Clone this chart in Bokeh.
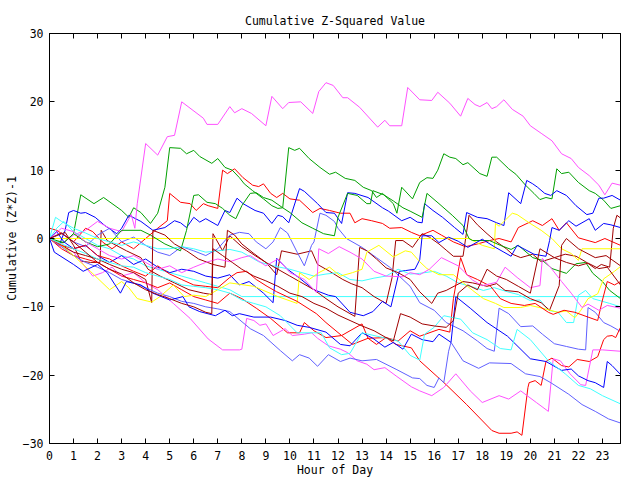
import math
from bokeh.plotting import figure
from bokeh.models import Range1d, FixedTicker, LinearAxis
from bokeh.embed import file_html
from bokeh.resources import INLINE

# ---- data: (hour, cumulative (Z*Z)-1) knots ----
m1 = [(0,0),(0.5,-0.8),(1,0.5),(1.5,1.2),(2,2.5),(2.5,1.5),(3,1.0),(3.4,3.5),(3.55,1.5),(3.65,5.1),(4.0,13.9),(4.5,12.2),(4.9,14.9),(5.2,15.1),(5.5,20.0),(6.4,17.6),(6.55,16.7),(7.0,16.7),(7.5,19.3),(7.7,18.4),(8.0,19.0),(8.4,18.3),(9.0,16.5),(9.25,20.8),(9.7,19.0),(9.95,19.9),(10.45,20.0),(10.95,18.3),(11.2,21.5),(11.5,22.8),(11.8,22.4),(12.2,20.6),(12.4,20.6),(12.9,19.2),(13.65,16.3),(13.95,17.3),(14.15,16.5),(14.65,16.5),(14.9,22.1),(15.4,20.3),(15.9,20.2),(16.15,21.4),(16.65,19.8),(17.1,17.9),(17.4,20.5),(17.7,19.6),(17.9,19.3),(18.2,19.9),(18.4,19.0),(18.6,19.3),(18.9,20.3),(19.25,18.9),(19.7,17.9),(20.0,16.5),(20.45,15.4),(20.9,14.3),(21.3,12.4),(21.7,11.7),(22.0,10.4),(22.45,9.2),(22.85,7.8),(23.1,6.4),(23.4,8.1),(23.75,7.8)]
g1 = [(0,0),(0.3,-0.5),(0.6,-0.6),(1.0,0.7),(1.1,2.6),(1.3,6.4),(1.85,5.1),(2.25,6.0),(3.0,4.1),(3.3,3.1),(3.5,4.5),(3.8,3.8),(4.2,2.2),(4.5,3.7),(4.8,7.5),(5.0,13.3),(5.45,13.2),(5.7,12.4),(6.0,12.9),(6.25,12.0),(6.75,11.0),(7.0,11.7),(7.3,10.4),(7.6,10.0),(7.9,8.9),(8.1,8.0),(8.45,7.0),(8.9,5.8),(9.25,4.8),(9.5,4.4),(9.7,4.5),(9.95,13.3),(10.2,12.9),(10.4,13.2),(10.8,11.7),(11.25,10.4),(11.65,9.4),(11.9,9.7),(12.3,8.8),(12.7,8.5),(13.05,7.5),(13.4,7.0),(13.6,6.0),(13.85,6.6),(14.3,5.1),(14.45,3.7),(14.65,7.5),(15.1,5.8),(15.4,8.2),(15.7,8.9),(15.95,8.8),(16.15,10.0),(16.4,12.4),(16.65,11.9),(16.9,11.7),(17.2,10.8),(17.4,11.1),(17.9,9.5),(18.2,9.1),(18.4,11.9),(18.6,11.9),(19.1,10.2),(19.4,9.4),(19.8,7.8),(20.15,6.6),(20.4,5.7),(20.65,6.0),(20.9,5.8),(21.1,10.2),(21.3,9.5),(21.6,9.7),(22.0,8.2),(22.45,7.0),(22.7,6.6),(23.05,5.6),(23.35,4.4),(23.75,4.8)]
b1 = [(0,0),(0.4,-1),(0.65,1.2),(0.8,3.8),(1.0,4.1),(1.3,3.7),(1.5,3.8),(1.9,3.1),(2.3,1.9),(2.8,0.7),(3.0,1.5),(3.3,3.4),(3.8,2.5),(4.3,1.2),(4.8,1.6),(5.2,2.6),(5.45,2.3),(5.7,1.6),(6.0,3.1),(6.25,2.4),(6.5,2.9),(7.0,1.9),(7.3,4.1),(7.5,3.8),(7.8,5.9),(8.05,5.1),(8.55,4.1),(8.9,3.7),(9.25,2.2),(9.5,3.4),(9.7,3.2),(9.95,2.3),(10.4,7.3),(10.6,6.9),(11.15,5.1),(11.5,3.8),(11.85,3.7),(12.15,2.2),(12.4,6.7),(12.7,6.6),(13.25,6.0),(13.85,4.5),(14.1,4.0),(14.65,2.6),(15.0,3.1),(15.3,2.4),(15.5,2.3),(15.6,5.1),(15.95,4.1),(16.35,3.1),(16.85,1.6),(17.2,0.6),(17.35,3.8),(17.8,3.1),(18.2,2.9),(18.6,2.3),(18.9,1.9),(19.1,6.7),(19.6,5.1),(19.85,8.5),(20.1,8.0),(20.3,7.5),(20.6,6.6),(20.85,6.3),(21.1,7.0),(21.5,6.3),(21.9,4.8),(22.35,3.5),(22.6,3.7),(22.85,5.9),(23.05,5.9),(23.4,6.3),(23.75,5.6)]
b2 = [(0,0),(0.3,1),(0.6,-0.5),(1.0,-1.5),(1.5,-1),(2.0,-2.5),(2.5,-3.5),(3.0,-2.5),(3.5,-3.8),(4.0,-3.0),(4.5,-4.2),(5.0,-5),(5.5,-4.5),(6,-4.8),(6.5,-5.5),(7.0,-5.8),(7.5,-5.3),(7.9,-6.8),(8.3,-6.3),(8.9,-8.0),(9.3,-9.4),(9.45,-2.9),(9.9,-4.5),(10.4,-5.8),(11.0,-7.5),(11.6,-8.3),(11.9,-8.5),(12.5,-10.8),(13.05,-11.3),(13.45,-10.7),(13.85,-9.2),(14.2,-10),(14.55,-4.8),(14.8,-4.7),(15.2,-4.5),(15.4,-3.1),(15.5,0.4),(15.9,0.4),(16.2,-0.6),(16.6,0.2),(17.0,-0.4),(17.4,-1.3),(18.0,-0.1),(18.5,-1.2),(18.9,-2.0),(19.2,-2.6),(19.45,-1.0),(20.15,-2.3),(20.65,-2.6),(20.8,-0.3),(20.9,1.6),(21.2,1.2),(21.6,2.6),(21.9,1.8),(22.45,2.9),(22.7,1.2),(23.05,2.2),(23.35,2.0),(23.75,1.6)]
b3 = [(0,0),(0.2,-2),(1.0,-3.8),(1.4,-4.8),(2.0,-3.8),(2.4,-5.0),(2.95,-8.0),(3.2,-6.3),(3.8,-6.8),(4.3,-8.0),(5.0,-9.0),(5.55,-8.5),(5.8,-10.0),(6.25,-10.7),(6.9,-11.3),(7.3,-10.5),(7.6,-11.3),(7.9,-11.0),(8.5,-11.5),(9.2,-11.5),(9.8,-12),(10.3,-12.7),(10.8,-13),(11.5,-13.7),(12.1,-15.5),(12.5,-15.7),(13.0,-13.8),(13.45,-14.6),(13.95,-15.9),(14.3,-15.2),(14.7,-16.2),(15.05,-14.0),(15.5,-14.8),(15.95,-15.1),(16.2,-14.0),(16.7,-15.2),(16.9,-8.5),(17.5,-10.2),(18.2,-12.3),(19.05,-14.3),(20.0,-17.6),(20.65,-18.0),(21.3,-19.3),(21.7,-19.1),(22.0,-20.1),(22.4,-20.8),(22.7,-21.1),(23.05,-21.8),(23.2,-18.0),(23.4,-18.6),(23.75,-19.9)]
dr1 = [(0,0),(0.65,0.9),(1.0,-1.0),(1.3,-3.3),(1.7,-3.5),(2.1,-3.5),(2.15,1.2),(2.4,-0.3),(3.2,-1.8),(3.8,-2.8),(4.1,-4.5),(4.6,-5.5),(5.2,-6.5),(5.8,-7.5),(6.4,-8.0),(6.75,-8.2),(6.8,0.7),(7.2,-1.8),(7.5,0.4),(8.0,-1.2),(8.55,-2.5),(9.0,-3.5),(9.45,-5.3),(9.65,-1.8),(10.3,-2.3),(10.9,-1.8),(11.15,-3.8),(11.65,-4.8),(12.2,-6.0),(12.55,-6.6),(13.0,-7.2),(13.5,-8.5),(14.0,-9.5),(14.25,-5.7),(14.4,-0.3),(14.7,-0.3),(15.1,-1.3),(15.5,0.7),(15.8,0.2),(16.2,-0.8),(16.5,-1.7),(16.8,-2.6),(17.2,-2.6),(17.45,3.4),(17.8,2.0),(18.2,0.7),(18.6,-0.5),(19.0,-1.5),(19.25,-2.3),(19.6,-2.8),(20.1,-2.3),(20.45,-3.4),(21.0,-2.8),(21.45,-2.3),(21.9,-2.6),(22.3,-3.4),(22.7,-4.4),(22.95,-3.8),(23.3,-4.2),(23.45,1.5),(23.6,3.4),(23.75,3.0)]
dr2 = [(0,0),(0.5,-1),(1,-2),(1.5,-2.5),(2,-3),(2.5,-3.8),(3,-4.5),(3.5,-5),(4,-6),(4.25,-9.4),(4.3,1.2),(4.8,0.5),(5.2,-0.8),(5.7,-1.8),(6.2,-3),(6.8,-3.8),(7.3,-4.2),(7.4,1.2),(7.7,0.5),(8.0,-0.8),(8.5,-2.2),(9,-3.5),(9.5,-4.5),(10,-5.5),(10.5,-6.5),(11,-7.5),(11.5,-8.8),(12,-10),(12.5,-11),(12.7,-11.4),(12.9,-1.3),(13.2,-1.8),(13.6,-3),(14.0,-4.3),(14.5,-5.0),(15,-6.0),(15.4,-7.8),(15.9,-9.5),(16.15,-8.0),(16.5,-7.6),(17.2,-6.3),(17.6,-6.5),(18.2,-7.0),(18.6,-6.6),(18.95,-7.6),(19.5,-7.8),(20,-8.8),(20.45,-9.4),(20.8,-10.5),(21.2,-6.9),(21.3,-1.0),(21.5,0.0),(22.0,-1.5),(22.7,-2.8),(23.15,-2.5),(23.75,-4.0)]
dr3 = [(0,0),(0.5,0.8),(1,-0.5),(1.5,-2),(2,-3.5),(2.5,-4.5),(3,-5.2),(3.5,-6.5),(4,-7.5),(4.5,-8.2),(5,-8.8),(5.5,-9.5),(6,-10),(6.5,-10.8),(6.75,-11),(6.8,-1.5),(7.2,-2.5),(7.6,-3.5),(8,-4.5),(8.5,-5.5),(9,-6.2),(9.5,-7),(10,-8),(10.5,-8.5),(11,-9.5),(11.5,-10.2),(12,-11.2),(12.5,-12),(13,-12.8),(13.5,-13.5),(14,-14.5),(14.3,-15),(14.6,-11),(15,-11.5),(15.5,-12.5),(16,-12.8),(16.5,-13),(16.8,-12),(17,-8),(17.4,-6.8),(17.8,-7.5),(18.2,-4.5),(18.6,-5.5),(19,-6),(19.5,-7),(20,-8),(20.4,-1.5),(21,-2.8),(21.5,-3.5),(22,-4.0),(22.4,-3.6),(22.85,-4.4),(23.2,-4.2),(23.75,-6.8)]
r1 = [(0,1.5),(0.3,1.2),(0.6,0.5),(1.0,-0.5),(1.5,1.5),(1.8,1.0),(2.2,-0.5),(2.6,-1.5),(3.0,-0.5),(3.5,-1.5),(4.0,0),(4.5,1.5),(4.9,2.6),(5.0,6.6),(5.45,5.3),(5.85,5.1),(6.1,4.1),(6.4,5.1),(6.6,4.8),(7.0,4.4),(7.2,10.0),(7.4,9.5),(7.7,10.2),(8.05,8.9),(8.45,7.8),(8.7,7.6),(8.9,8.0),(9.2,6.6),(9.45,6.0),(9.7,6.6),(10.0,5.8),(10.4,5.6),(10.95,3.8),(11.25,4.4),(11.65,4.1),(12.1,3.7),(12.5,3.7),(12.7,2.3),(13.0,2.9),(13.4,2.6),(13.85,2.2),(14.15,1.5),(14.65,1.6),(15.05,0.9),(15.4,0.4),(15.95,1.2),(16.3,0.5),(16.8,-0.5),(17.3,-1.2),(17.8,-0.8),(18.3,-0.3),(18.7,0.0),(19.2,-0.5),(19.5,1.6),(20.1,2.6),(20.5,1.9),(20.9,2.9),(21.2,1.2),(21.5,2.3),(22.0,0.1),(22.7,-0.6),(23.1,0.0),(23.75,-1.0)]
r2 = [(0,0),(0.5,-1.5),(1,-2.5),(1.5,-3),(2,-3.5),(2.5,-4.5),(3,-5.5),(3.5,-6),(4,-6.5),(4.5,-7.2),(5,-6.5),(5.5,-7.5),(6,-8.5),(6.5,-9),(7,-9.5),(7.5,-8.0),(8,-8.8),(8.6,-10.2),(9.2,-11.7),(9.9,-13.8),(10.4,-13.8),(10.6,-12.3),(11,-13.5),(11.5,-14.5),(12.15,-14.2),(12.6,-15.5),(13.25,-14.6),(13.6,-15.5),(14.0,-14.5),(14.4,-15.5),(15.05,-16.0),(15.4,-17.9),(16.5,-21.4),(17.35,-24.3),(18.4,-28.1),(18.7,-28.5),(19.2,-28.5),(19.45,-28.3),(19.65,-28.8),(19.9,-21.8),(19.95,-21.1),(20.2,-20.8),(20.45,-21.5),(20.65,-18.0),(20.9,-17.5),(21.3,-18.6),(21.6,-18.8),(21.95,-17.7),(22.45,-18.0),(22.8,-17.3),(23.05,-14.8),(23.2,-14.3),(23.4,-14.2),(23.55,-14.5),(23.75,-13.0)]
r3 = [(0,0),(0.5,-1),(1,-1.5),(1.5,-1),(2,-2.5),(2.5,-3),(3,-4),(3.5,-4.8),(4,-5.5),(4.5,-4),(5,-5.2),(5.5,-6),(6,-6.8),(6.5,-7),(7,-7.2),(7.5,-5.7),(7.8,-5.0),(8.2,-4.8),(8.6,-6.0),(9.05,-7.0),(9.45,-7.8),(10.3,-9.2),(11.1,-11.0),(11.5,-12.3),(12.15,-14.2),(12.5,-13.5),(13.0,-12.5),(13.25,-14.6),(14.0,-14.5),(14.5,-15),(15.0,-13.5),(15.4,-14.3),(16.2,-13.3),(16.65,-13.7),(16.8,-8.8),(17.1,-2.8),(17.35,-5.3),(17.8,-6),(18.35,-7.0),(18.75,-8.8),(19.2,-9.5),(19.75,-9.8),(20.2,-9.5),(20.75,-10.8),(20.95,-11.1),(21.4,-10.5),(21.85,-10.8),(22.4,-11.5),(22.8,-12),(23.0,-9),(23.2,-6.3),(23.5,-6.8),(23.75,-6.3)]
y1 = [(0,0),(17.45,0),(18.0,-1.0),(18.5,-1.5),(18.55,2.2),(18.7,1.8),(19.25,3.7),(19.45,3.5),(19.95,2.3),(20.45,1.2),(20.9,0.0),(21.3,-1.5),(21.7,-2.2),(22.0,-3.2),(22.15,-1.5),(23.75,-1.5)]
y2 = [(0,0),(0.5,-1),(1,-2.5),(1.7,-4.8),(2.5,-7.5),(3.0,-6.3),(3.3,-7.2),(3.65,-8.8),(4.25,-9.3),(4.6,-8.5),(5.15,-6.8),(5.6,-8.5),(6.0,-8.3),(6.5,-8.5),(7,-7.5),(7.5,-6.5),(8.5,-7.0),(9.5,-8.5),(10.3,-9.5),(10.4,-5.0),(10.8,-6.0),(11.2,-5.0),(11.65,-4.2),(12.1,-5.5),(12.6,-5.0),(13.0,-4.5),(13.2,-2.0),(13.7,-1.0),(14.3,-2.7),(14.8,-1.8),(15.05,-2.0),(15.4,-3.4),(15.7,-4.4),(16.2,-5.3),(16.8,-5.3),(17.6,-7.6),(18.05,-8.8),(18.55,-9.5),(18.9,-10.1),(19.6,-10.1),(20.0,-9.8),(20.5,-10.2),(21.15,-10.8),(21.5,-10.6),(21.85,-11.6),(22.1,-10.5),(22.4,-8.8),(22.8,-8.1),(23.05,-5.9),(23.5,-4.8),(23.75,-4.1)]
c1 = [(0,0),(0.3,1.5),(0.6,2.5),(1,1),(1.5,0),(2,-1),(2.5,-1.5),(3,-2.5),(3.5,-3),(4,-4),(4.5,-4.5),(5,-5),(5.5,-5.5),(6,-6),(6.5,-6.5),(7,-7),(7.5,-7.5),(8.0,-8.5),(23.75,-8.5)]
c2 = [(0,0),(0.25,3.1),(0.5,2.5),(1,1.5),(1.5,0.8),(2,0),(2.5,-0.5),(3,-1),(3.5,-0.5),(4,-1),(4.5,-1.5),(5,-1.5),(5.5,-1.2),(6,-1.5),(6.5,-2),(7,-1.8),(7.5,-1.6),(8,-2),(8.7,-3.4),(9.3,-4),(10,-4.5),(10.5,-5),(11,-5.5),(11.5,-5.2),(12,-5),(12.5,-6),(13,-6.2),(13.5,-5.8),(14,-5.5),(14.5,-4.5),(15,-5.2),(15.4,-5.1),(16,-4.8),(16.5,-5.5),(17,-6.5),(17.5,-7),(18.05,-7.6),(18.5,-7.2),(19.05,-7.8),(19.5,-8.2),(20,-9.1),(20.4,-9.0),(20.75,-10.5),(21.15,-10.8),(21.5,-12.3),(21.8,-12.3),(22,-8.3),(22.3,-7.6),(22.6,-8.8),(23.0,-9.2),(23.3,-9.5),(23.75,-10)]
c3 = [(0,0),(0.5,-0.8),(1,-1.5),(1.5,-2.2),(2,-3),(2.5,-3.5),(3,-4),(3.5,-4.2),(4,-5),(4.5,-5.5),(5,-6),(5.5,-6.8),(6,-7),(6.5,-7.2),(7,-7.5),(7.5,-8),(8,-9),(8.5,-9.5),(9,-10),(9.6,-11.3),(10.3,-13.8),(11.3,-13.8),(11.65,-16.0),(12.15,-17.0),(12.5,-16.8),(13.0,-13.8),(13.5,-14.2),(14.0,-14.6),(14.5,-15),(15.0,-17.1),(15.4,-17.8),(15.6,-14.0),(16.0,-13),(16.4,-11.3),(17.1,-11.8),(17.6,-13.8),(18.2,-14.8),(18.75,-16.1),(19.2,-16.3),(19.45,-13.3),(20.0,-14.8),(20.75,-17.9),(21.45,-19.8),(22.0,-21.5),(22.5,-22.0),(23.0,-23.0),(23.75,-24.2)]
lb1 = [(0,0),(0.5,0.8),(1,-0.5),(1.5,-1.2),(2,0.5),(2.5,1.5),(3,-0.5),(3.5,0.2),(4,-1),(4.5,-2),(5,-2.5),(5.5,-1.2),(6,-1.8),(6.5,-2.5),(7,-1.5),(7.5,0.5),(7.9,0.9),(8.3,0.7),(8.6,-0.5),(9.0,-1.5),(9.3,-0.5),(9.6,1.6),(9.9,0.8),(10.3,-2),(10.6,-4),(10.9,-1),(11.0,-0.5),(11.25,3.7),(11.5,3.4),(11.85,2.5),(12.0,1.5),(12.35,0),(13.0,-1.3),(13.6,-2.8),(14.15,-4.2),(15.0,-7.0),(15.4,-9.4),(16.0,-10.5),(16.5,-12.3),(17.2,-13.5),(17.8,-15),(18.2,-16.1),(18.5,-16.5),(18.7,-10.2),(19.1,-11),(19.6,-12.9),(20.1,-12.8),(20.5,-14),(21.0,-15.4),(21.5,-15.8),(22.0,-16.2),(22.3,-16.3),(22.4,-10.1),(22.7,-10.8),(23.05,-12.3),(23.35,-12.8),(23.75,-13.6)]
lb2 = [(0,0),(0.5,-1.2),(1,-2.5),(1.5,-3.5),(2,-4.2),(2.5,-5),(3,-6),(3.5,-6.5),(4,-7.2),(4.5,-8),(5,-8.5),(5.5,-9.2),(6,-9.5),(6.5,-10),(7,-10.3),(7.5,-10.7),(8.35,-13.2),(8.9,-14.2),(9.6,-16.4),(10.1,-17.9),(10.4,-17.0),(10.8,-17.5),(11.15,-18.7),(11.6,-17.0),(12.1,-18.0),(12.5,-17.5),(13.0,-17.9),(13.6,-17.7),(14.45,-19.2),(15.1,-20.4),(15.4,-20.5),(15.7,-21.5),(16.0,-21.8),(16.2,-20.4),(16.4,-21.1),(16.6,-16.5),(16.7,-15.2),(17.2,-17.9),(17.85,-19.0),(18.3,-18.2),(19.2,-18.3),(19.8,-19.8),(20.4,-20.2),(20.85,-21.1),(21.6,-22.8),(22.15,-24.3),(22.7,-25.3),(23.25,-26.4),(23.75,-27.0)]
m2 = [(0,0),(0.5,-1.2),(1,-2),(1.8,-5.5),(2.2,-5),(2.6,-4.2),(3,-5.5),(3.5,-5),(4,-6.5),(4.5,-7.5),(5.15,-9.5),(5.85,-11.7),(6.6,-14.7),(7.2,-16.3),(7.9,-16.3),(8.0,-16.2),(8.2,-11.7),(8.5,-12.0),(8.75,-12.7),(9.0,-12.5),(9.3,-14.2),(9.8,-13.2),(10.1,-14.2),(10.6,-14.0),(10.9,-13.8),(11.15,-14.6),(11.6,-15.7),(12.1,-16.2),(12.4,-16.7),(12.8,-17.9),(13.2,-18.4),(13.5,-19.2),(13.95,-18.9),(14.45,-20.2),(15.05,-21.7),(15.4,-22.3),(15.9,-23.0),(16.4,-21.8),(16.9,-19.8),(17.5,-22.3),(18.0,-24.0),(18.7,-23.0),(19.1,-23.5),(19.6,-22.3),(20.25,-24.0),(20.75,-25.3),(20.95,-17.6),(21.25,-17.9),(21.65,-19.8),(22.1,-21.4),(22.3,-21.5),(22.6,-16.3),(23.0,-16.3),(23.75,-16.5)]
m3 = [(0,0),(0.5,1.5),(1,1),(1.5,-0.5),(2,-1.5),(2.5,-2.5),(3,-3),(3.5,-2.5),(4,-3.5),(4.5,-4.5),(5,-4),(5.5,-5),(6,-4.2),(6.5,-3.5),(7,-3),(7.5,-3.4),(8,-2.8),(8.35,-2.5),(9.0,-4.0),(9.5,-3.0),(10.0,-5.0),(10.6,-6.0),(11.1,-7.9),(11.2,-1.5),(11.6,-2.2),(12.05,-1.2),(12.5,-2.0),(13,-3.0),(13.5,-4.8),(14,-5.5),(14.7,-5.6),(15.0,-5),(15.4,-5.3),(15.8,-4.5),(16.3,-2.8),(17.0,-4.0),(17.6,-6.1),(18.0,-6.9),(18.6,-6.4),(18.95,-4.2),(19.45,-5.7),(20.0,-7.2),(20.4,-6.9),(20.5,-2.9),(20.9,-4.5),(21.3,-6.3),(21.7,-8.0),(22.15,-10.1),(22.4,-9.6),(22.85,-10.5),(23.2,-9.8),(23.75,-10.2)]
g2 = [(0,0),(0.6,-0.6),(1.0,0.7),(1.5,-0.5),(2,-1.2),(2.5,-0.8),(3.0,1.2),(3.8,1.2),(4.2,0.5),(4.8,-0.8),(5.45,-1.8),(5.7,1.2),(6.0,6.3),(6.2,6.4),(6.55,5.3),(6.9,5.1),(7.2,4.4),(7.5,3.4),(7.75,2.9),(8.0,4.8),(8.35,6.6),(8.6,6.7),(8.9,6.0),(9.25,5.6),(9.7,4.5),(10.0,3.8),(10.5,2.3),(10.95,1.5),(11.4,0.7),(11.85,0.4),(12.0,3.1),(12.4,6.6),(12.8,6.3),(13.2,5.1),(13.35,5.1),(13.45,7.0),(13.9,6.4),(14.3,5.5),(14.7,4.5),(15.0,4.0),(15.5,3.1),(15.7,6.6),(16.2,5.1),(16.75,3.4),(17.2,1.9),(17.45,0.0),(17.6,-0.3),(18.3,-0.3),(18.75,-1.0),(19.2,-1.6),(19.5,-1.0),(20.1,-2.8),(20.5,-3.2),(20.9,-4.4),(21.5,-5.1),(21.9,-3.7),(22.3,-3.5),(22.6,-5.1),(23.0,-6.3),(23.3,-7.6),(23.75,-8.8)]

series = [
    (r1, "#ff0000"), (g1, "#00a000"), (b1, "#0000ff"), (m1, "#ff50ff"),
    (c1, "#40ffff"), (dr1, "#a00000"), (lb1, "#6060ff"), (y1, "#ffff00"),
    (r2, "#ff0000"), (g2, "#00a000"), (b2, "#0000ff"), (m2, "#ff50ff"),
    (c2, "#40ffff"), (dr2, "#a00000"), (lb2, "#6060ff"), (y2, "#ffff00"),
    (r3, "#ff0000"), (b3, "#0000ff"), (m3, "#ff50ff"), (c3, "#40ffff"),
    (dr3, "#a00000"),
]
hour_ticks = list(range(24))
value_ticks = [-30, -20, -10, 0, 10, 20, 30]
hour_max = 23.75

FONT = "DejaVu Sans Mono"
FS = "11.5px"

p = figure(width=640, height=480, x_range=Range1d(0, hour_max), y_range=Range1d(-30, 30),
           output_backend="svg", toolbar_location=None,
           min_border_left=49, min_border_right=20, min_border_top=33, min_border_bottom=37,
           title="Cumulative Z-Squared Value")
p.title.align = "center"
p.title.text_font = FONT
p.title.text_font_size = FS
p.title.text_font_style = "normal"
p.title.text_color = "black"
p.title.standoff = 12

p.xgrid.visible = False
p.ygrid.visible = False
p.outline_line_color = "black"
p.outline_line_width = 1
p.background_fill_color = "white"
p.border_fill_color = "white"

for data, col in series:
    hs = [h for h, v in data]
    vs = [v for h, v in data]
    p.line(hs, vs, line_color=col, line_width=1)

def style_axis(ax, labels=True):
    ax.major_tick_in = 5
    ax.major_tick_out = 0
    ax.minor_tick_line_color = None
    ax.axis_line_color = "black"
    ax.major_tick_line_color = "black"
    ax.major_label_text_font = FONT
    ax.major_label_text_font_size = FS
    ax.major_label_text_color = "black"
    ax.axis_label_text_font = FONT
    ax.axis_label_text_font_size = FS
    ax.axis_label_text_font_style = "normal"
    ax.axis_label_text_color = "black"
    if not labels:
        ax.major_label_text_font_size = "0px"
        ax.major_label_standoff = 0

p.xaxis.ticker = FixedTicker(ticks=hour_ticks)
p.yaxis.ticker = FixedTicker(ticks=value_ticks)
p.xaxis.axis_label = "Hour of Day"
p.yaxis.axis_label = "Cumulative (Z*Z)-1"
style_axis(p.xaxis[0])
style_axis(p.yaxis[0])
p.xaxis.major_label_standoff = 7
p.xaxis.axis_label_standoff = 0
p.yaxis.major_label_standoff = 6
p.yaxis.axis_label_standoff = 1

# mirrored inward ticks on the top and right borders
top = LinearAxis(ticker=FixedTicker(ticks=hour_ticks))
style_axis(top, labels=False)
p.add_layout(top, "above")
right = LinearAxis(ticker=FixedTicker(ticks=value_ticks))
style_axis(right, labels=False)
p.add_layout(right, "right")

open("out.html", "w").write(file_html(p, INLINE))
